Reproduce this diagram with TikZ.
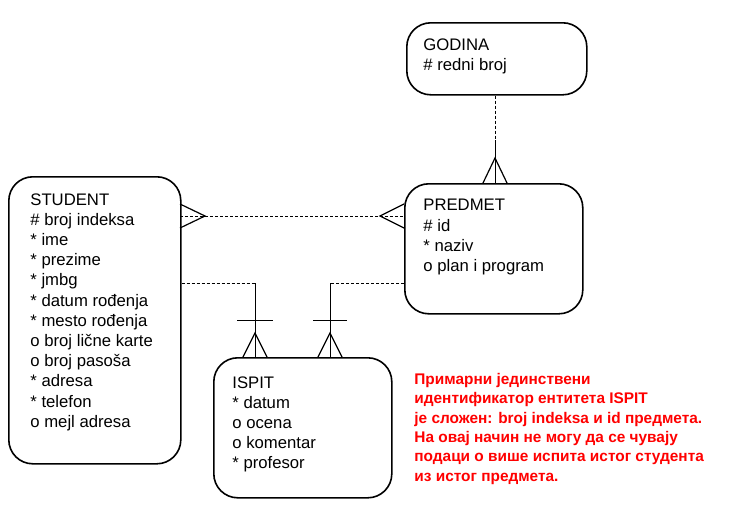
\documentclass[tikz,border=0pt]{standalone}
\usepackage{fontspec}
\setmainfont{Liberation Sans}
\usetikzlibrary{positioning}

\begin{document}
\begin{tikzpicture}[x=1pt,y=-1pt,thick,
  entity/.style={draw,line width=1.6pt,rounded corners=24pt,anchor=north west,inner sep=0pt},
  attrs/.style={anchor=north west,align=left,inner sep=0pt,font=\fontsize{16.7}{20.2}\selectfont},
  rel/.style={densely dashed,thin},
  foot/.style={line width=1.2pt},
  bar/.style={thin}]
  \useasboundingbox (0,0) rectangle (730,512);

  % entities
  \node[entity,minimum width=172pt,minimum height=287pt] (student) at (8,176) {};
  \node[entity,minimum width=178pt,minimum height=130pt] (predmet) at (404,183) {};
  \node[entity,minimum width=180pt,minimum height=72pt] (godina) at (406,22) {};
  \node[entity,minimum width=178pt,minimum height=140pt] (ispit) at (213,357) {};

  \node[attrs] (studenttxt) at (30,193) {STUDENT\\\# broj indeksa\\* ime\\* prezime\\* jmbg\\* datum rođenja\\* mesto rođenja\\o broj lične karte\\o broj pasoša\\* adresa\\* telefon\\o mejl adresa};
  \node[attrs] (predmettxt) at (423,199) {PREDMET\\\# id\\* naziv\\o plan i program};
  \node[attrs] (godinatxt) at (423,38) {GODINA\\\# redni broj};
  \node[attrs] (ispittxt) at (232,376) {ISPIT\\* datum\\o ocena\\o komentar\\* profesor};

  \node[anchor=north west,align=left,inner sep=0pt,text=red,
    font=\bfseries\fontsize{15.4}{19.3}\selectfont] (napomena) at (414,373)
    {Примарни јединствени\\идентификатор ентитета ISPIT\\је сложен: broj indeksa и id предмета.\\На овај начин не могу да се чувају\\подаци о више испита истог студента\\из истог предмета.};

  % GODINA - PREDMET
  \coordinate (g1) at (495,140);
  \draw[rel] (godina.south -| g1) -- (g1);
  \draw[bar] (g1) -- (g1 |- predmet.north);
  \draw[foot] (483,183) -- (495,158) -- (507,183);

  % STUDENT - PREDMET
  \draw[rel] (180,216) -- (404,216);
  \draw[foot] (180,204) -- (205,216) -- (180,228);
  \draw[foot] (404,204) -- (380,216) -- (404,228);

  % STUDENT - ISPIT
  \coordinate (s1) at (255,283);
  \draw[rel] (student.east |- s1) -- (s1);
  \draw[bar] (s1) -- (s1 |- ispit.north);
  \draw[bar] (237,320) -- (273,320);
  \draw[foot] (243,357) -- (255,333) -- (267,357);

  % PREDMET - ISPIT
  \coordinate (p1) at (330,283);
  \draw[rel] (predmet.west |- p1) -- (p1);
  \draw[bar] (p1) -- (p1 |- ispit.north);
  \draw[bar] (313,320) -- (347,320);
  \draw[foot] (318,357) -- (330,333) -- (342,357);
\end{tikzpicture}
\end{document}
